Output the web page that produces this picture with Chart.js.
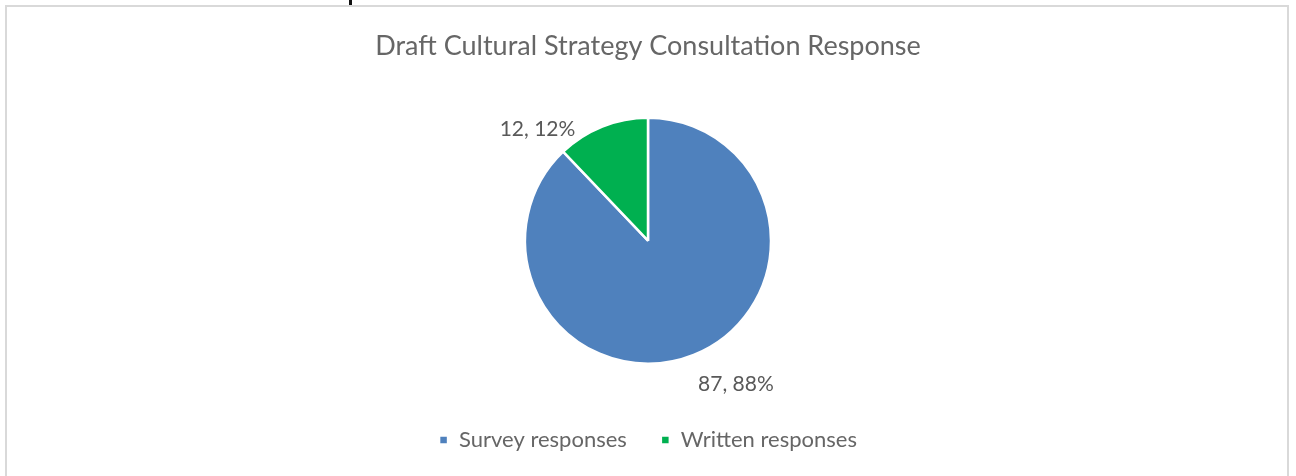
<!DOCTYPE html>
<html>
<head>
<meta charset="utf-8">
<script src="https://cdn.jsdelivr.net/npm/chart.js@4/dist/chart.umd.min.js"></script>
<style>
    html, body { margin: 0; padding: 0; background: #fff; overflow: hidden; }
    #wrap { position: relative; width: 1296px; height: 476px; }
    #frame {
        position: absolute; left: 5px; top: 5px; width: 1284px; height: 480px;
        border: 2px solid #d9d9d9; box-sizing: border-box;
    }
    #tick { position: absolute; left: 349px; top: 0; width: 3px; height: 5px; background: #111; }
    canvas { position: absolute; left: 0; top: 0; }
</style>
</head>
<body>
<div id="wrap">
    <div id="frame"></div>
    <div id="tick"></div>
    <canvas id="responseChart" width="1296" height="476"></canvas>
</div>
<script>
const categories = ['Survey responses', 'Written responses'];
const responseCounts = [87, 12];
const responsePercents = ['88%', '12%'];
const sliceColors = ['#4f81bd', '#00b050'];

// Draws "value, percent" beside each slice, just outside the rim
const sliceLabels = {
    id: 'sliceLabels',
    afterDatasetsDraw(chart, args, opts) {
        const ctx = chart.ctx;
        const meta = chart.getDatasetMeta(0);
        ctx.save();
        ctx.font = opts.font;
        ctx.fillStyle = opts.color;
        ctx.textAlign = 'center';
        ctx.textBaseline = 'middle';
        meta.data.forEach(function(arc, i) {
            const p = arc.getProps(['x', 'y', 'startAngle', 'endAngle', 'outerRadius'], true);
            const mid = (p.startAngle + p.endAngle) / 2 + opts.shift[i];
            const r = p.outerRadius + opts.gap[i];
            const text = responseCounts[i] + ', ' + responsePercents[i];
            ctx.fillText(text, p.x + Math.cos(mid) * r, p.y + Math.sin(mid) * r);
        });
        ctx.restore();
    }
};

const ctx = document.getElementById('responseChart').getContext('2d');
new Chart(ctx, {
    type: 'pie',
    data: {
        labels: categories,
        datasets: [{
            data: responseCounts,
            backgroundColor: sliceColors,
            borderColor: '#ffffff',
            borderWidth: 2.5,
            radius: 123
        }]
    },
    options: {
        responsive: false,
        animation: false,
        layout: { padding: { top: 0, bottom: 15, left: 10, right: 10 } },
        plugins: {
            title: {
                display: true,
                text: 'Draft Cultural Strategy Consultation Response',
                color: '#666666',
                font: { family: 'Lato', size: 27, weight: 'normal' },
                padding: { top: 30, bottom: 24 }
            },
            legend: {
                position: 'bottom',
                labels: {
                    color: '#666666',
                    font: { family: 'Lato', size: 22 },
                    usePointStyle: true,
                    pointStyle: 'rect',
                    boxWidth: 9,
                    boxHeight: 9,
                    padding: 34
                }
            },
            tooltip: { enabled: false },
            sliceLabels: {
                font: '21px Lato',
                color: '#595959',
                shift: [-0.17, -0.4],
                gap: [45, 34]
            }
        }
    },
    plugins: [sliceLabels]
});
</script>
</body>
</html>
